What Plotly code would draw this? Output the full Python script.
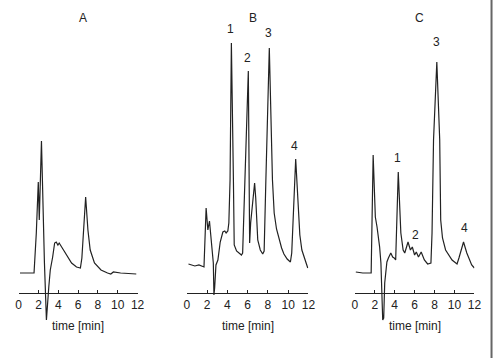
import plotly.graph_objects as go

# Panel A  (time [min], detector signal in arbitrary units)
tA = [0.13, 1.55, 1.78, 1.98, 2.08, 2.3, 2.6, 2.8, 3.04, 3.19, 3.43, 3.63, 3.79, 3.96, 4.09, 4.35, 4.85, 5.34, 5.84, 6.23, 6.38, 6.76, 6.99, 7.22, 7.65, 8.31, 8.97, 9.3, 9.56, 10.29, 11.87]
sA = [20, 20, 60, 111, 73, 152, 30, -27, 6, 23, 36, 50, 51, 48, 50, 46, 38, 30, 26, 25, 35, 96, 63, 43, 30, 23, 20, 19, 21, 20, 19]

# Panel B
tB = [0.17, 0.8, 1.2, 1.7, 1.91, 2.08, 2.24, 2.49, 2.62, 2.68, 2.75, 2.88, 3.07, 3.3, 3.56, 3.75, 3.88, 4.05, 4.15, 4.27, 4.4, 4.6, 4.68, 4.91, 5.39, 5.51, 5.72, 6.07, 6.2, 6.3, 6.69, 6.8, 7.0, 7.25, 7.49, 7.63, 7.8, 8.14, 8.45, 8.62, 8.85, 9.1, 9.35, 9.58, 9.9, 10.22, 10.35, 10.74, 10.95, 11.15, 11.35, 11.65, 11.93]
sB = [29, 27, 28, 26, 85, 63, 72, 41, 30, -2, 5, 28, 33, 51, 61, 62, 60, 62, 70, 113, 250, 113, 48, 42, 38, 40, 113, 222, 50, 70, 110, 95, 53, 43, 39, 42, 113, 245, 113, 80, 64, 53, 45, 39, 34, 31, 40, 134, 90, 58, 43, 33, 25]

# Panel C
tC = [0.1, 0.8, 1.64, 1.84, 2.06, 2.23, 2.49, 2.62, 2.8, 2.9, 3.0, 3.22, 3.37, 3.61, 3.8, 3.95, 4.1, 4.36, 4.62, 4.85, 5.01, 5.34, 5.58, 5.77, 6.0, 6.17, 6.39, 6.66, 6.98, 7.31, 7.64, 7.75, 7.9, 8.23, 8.52, 8.62, 8.8, 9.11, 9.76, 10.26, 10.45, 10.91, 11.24, 11.73, 12.0]
sC = [21, 20, 20, 138, 76, 66, 46, 30, -27, -25, 10, 31, 35, 40, 36, 35, 33, 121, 60, 43, 40, 51, 43, 46, 38, 41, 36, 41, 33, 29, 30, 60, 153, 231, 153, 73, 55, 43, 33, 29, 35, 51, 40, 28, 25]

panel_titles = ["A", "B", "C"]
tick_vals = [0, 2, 4, 6, 8, 10, 12]
tick_text = ["0", "2", "4", "6", "8", "10", "12"]
x_title = "time [min]"

peak_labels_B = ["1", "2", "3", "4"]
peak_t_B = [4.3, 6.02, 8.07, 10.67]
peak_s_B = [264, 235, 260, 147]
peak_labels_C = ["1", "2", "3", "4"]
peak_t_C = [4.26, 6.07, 8.23, 10.98]
peak_s_C = [135, 58, 251, 65]

W, H = 500, 358
AXIS_PX = 293
YR = [AXIS_PX - H, AXIS_PX]  # 1 unit per pixel, 0 at axis line

domains = [[16 / W, 137.3 / W], [187.5 / W, 311.7 / W], [359 / W, 481 / W]]
ink = "#222222"
FONT = "Liberation Sans, Arial, sans-serif"

fig = go.Figure()
series = [(tA, sA), (tB, sB), (tC, sC)]
for i, (t, s) in enumerate(series):
    sfx = "" if i == 0 else str(i + 1)
    fig.add_trace(go.Scatter(x=t, y=s, mode="lines", xaxis="x" + sfx, yaxis="y" + sfx,
                             line=dict(color=ink, width=1.2), showlegend=False, hoverinfo="skip"))
    fig.layout["xaxis" + sfx] = dict(
        domain=domains[i], range=[0, 12], anchor="free", position=(H - AXIS_PX) / H,
        showgrid=False, zeroline=False, showline=True, linecolor=ink, linewidth=1.3,
        ticks="inside", ticklen=3, tickwidth=1, tickcolor=ink,
        tickvals=tick_vals, ticktext=tick_text,
        tickfont=dict(family=FONT, size=12, color=ink),
    )
    fig.layout["yaxis" + sfx] = dict(domain=[0, 1], range=YR, visible=False, anchor="x" + sfx)
    cx = (domains[i][0] + domains[i][1]) / 2
    fig.add_annotation(text=x_title, xref="paper", yref="paper", x=cx, y=(H - 326) / H,
                       xanchor="center", yanchor="middle",
                       showarrow=False, font=dict(family=FONT, size=12, color=ink))
    fig.add_annotation(text=panel_titles[i], xref="x" + sfx, yref="y" + sfx, x=6.5, y=AXIS_PX - 17.5,
                       xanchor="center", yanchor="middle",
                       showarrow=False, font=dict(family=FONT, size=12, color=ink))

for lab, t, s in zip(peak_labels_B, peak_t_B, peak_s_B):
    fig.add_annotation(text=lab, xref="x2", yref="y2", x=t, y=s, showarrow=False,
                       xanchor="center", yanchor="middle",
                       font=dict(family=FONT, size=12, color=ink))
for lab, t, s in zip(peak_labels_C, peak_t_C, peak_s_C):
    fig.add_annotation(text=lab, xref="x3", yref="y3", x=t, y=s, showarrow=False,
                       xanchor="center", yanchor="middle",
                       font=dict(family=FONT, size=12, color=ink))

fig.add_shape(type="line", xref="paper", yref="paper", x0=0.997, x1=0.997, y0=0, y1=1,
              line=dict(color="#666666", width=2))

fig.update_layout(width=W, height=H, margin=dict(l=0, r=0, t=0, b=0),
                  paper_bgcolor="white", plot_bgcolor="white", hovermode=False)
fig.write_html("out.html", config={"displayModeBar": False, "staticPlot": True},
               post_script="document.body.style.margin='0';document.body.style.padding='0';document.body.style.overflow='hidden';")
